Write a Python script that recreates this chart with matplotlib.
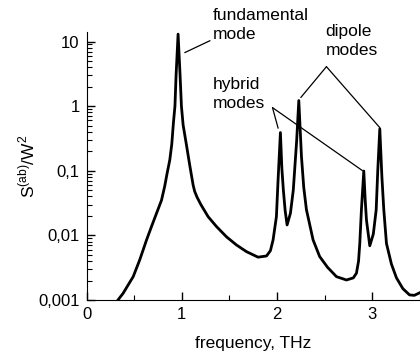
import numpy as np
import matplotlib
matplotlib.use('Agg')
import matplotlib.pyplot as plt
from matplotlib.ticker import FixedLocator, LogLocator, NullFormatter

plt.rcParams['font.family'] = ['Liberation Sans', 'DejaVu Sans']
plt.rcParams['mathtext.fontset'] = 'custom'
plt.rcParams['mathtext.rm'] = 'Liberation Sans'

# spectrum (frequency in THz, S/W^2)
freq = [0.33, 0.384, 0.49, 0.559, 0.63, 0.682, 0.735, 0.787, 0.82, 0.846,
        0.874, 0.895, 0.912, 0.928, 0.94, 0.961, 0.982, 0.996, 1.014, 1.049,
        1.084, 1.119, 1.135, 1.16, 1.20, 1.276, 1.364, 1.469, 1.574, 1.679,
        1.80, 1.889, 1.93, 1.958, 1.993, 2.01, 2.035, 2.05, 2.066, 2.085,
        2.105, 2.14, 2.17, 2.206, 2.228, 2.256, 2.28, 2.308, 2.378, 2.447,
        2.53, 2.623, 2.728, 2.80, 2.833, 2.855, 2.868, 2.885, 2.91, 2.925,
        2.938, 2.973, 3.01, 3.04, 3.057, 3.078, 3.10, 3.12, 3.148, 3.20,
        3.253, 3.32, 3.39, 3.44, 3.5]
signal = [0.001, 0.00127, 0.0023, 0.0042, 0.0085, 0.0137, 0.022, 0.035, 0.057, 0.0915,
          0.147, 0.26, 0.55, 1.0, 3.0, 13.0, 3.0, 1.0, 0.51, 0.25,
          0.12, 0.06, 0.048, 0.039, 0.03, 0.0195, 0.0137, 0.0095, 0.0071, 0.0056,
          0.0046, 0.0048, 0.0058, 0.0085, 0.0195, 0.07, 0.39, 0.11, 0.05, 0.024,
          0.0145, 0.022, 0.05, 0.30, 1.22, 0.165, 0.055, 0.025, 0.0085, 0.0047,
          0.0032, 0.0023, 0.00204, 0.0022, 0.0026, 0.0040, 0.0075, 0.0247, 0.099, 0.035,
          0.0173, 0.0069, 0.0105, 0.0247, 0.103, 0.445, 0.081, 0.025, 0.0075, 0.0036,
          0.0022, 0.0015, 0.0012, 0.00118, 0.0013]

y_ticks = [0.001, 0.01, 0.1, 1, 10]
y_ticklabels = ['0,001', '0,01', '0,1', '1', '10']
x_ticks = [0, 1, 2, 3]
x_ticklabels = ['0', '1', '2', '3']

fig = plt.figure(figsize=(4.2, 3.58), dpi=100)
ax = fig.add_axes([0.206, 0.162, 0.794, 0.749])

ax.plot(freq, signal, color='black', lw=2.0, solid_joinstyle='round')

ax.set_yscale('log')
ax.set_xlim(0, 3.5)
ax.set_ylim(0.001, 14.1)

ax.spines['top'].set_visible(False)
ax.spines['right'].set_visible(False)

ax.set_yticks(y_ticks)
ax.set_yticklabels(y_ticklabels)
ax.yaxis.set_minor_locator(LogLocator(base=10, subs=np.arange(2, 10)))
ax.yaxis.set_minor_formatter(NullFormatter())
ax.set_xticks(x_ticks)
ax.set_xticklabels(x_ticklabels)
ax.xaxis.set_minor_locator(FixedLocator([0.5, 1.5, 2.5, 3.5]))

ax.tick_params(which='major', direction='in', length=6, width=1, labelsize=12, pad=5)
ax.tick_params(which='minor', direction='in', length=3.5, width=0.8)

ax.set_xlabel('frequency, THz', fontsize=12.5, labelpad=10)
ax.set_ylabel(r'S$^{\mathregular{(ab)}}$/W$^{\mathregular{2}}$', fontsize=12.5, labelpad=0.5)

line_kw = dict(arrowstyle='-', lw=0.9, color='black', shrinkA=0, shrinkB=0)

ax.text(1.325, 32.5, 'fundamental\nmode', fontsize=12.5, ha='left', va='top',
        linespacing=1.3, clip_on=False)
ax.annotate('', xy=(1.031, 6.73), xytext=(1.296, 10.3),
            arrowprops=line_kw, annotation_clip=False)

ax.text(2.507, 18.7, 'dipole\nmodes', fontsize=12.5, ha='left', va='top',
        linespacing=1.3, clip_on=False)
for end in [(2.249, 1.36), (3.078, 0.465)]:
    ax.annotate('', xy=end, xytext=(2.518, 4.08),
                arrowprops=line_kw, annotation_clip=False)

ax.text(1.329, 2.83, 'hybrid\nmodes', fontsize=12.5, ha='left', va='top',
        linespacing=1.3, clip_on=False)
for end in [(2.011, 0.455), (2.896, 0.1005)]:
    ax.annotate('', xy=end, xytext=(1.952, 0.948),
                arrowprops=line_kw, annotation_clip=False)

fig.savefig('out.png', dpi=100)
